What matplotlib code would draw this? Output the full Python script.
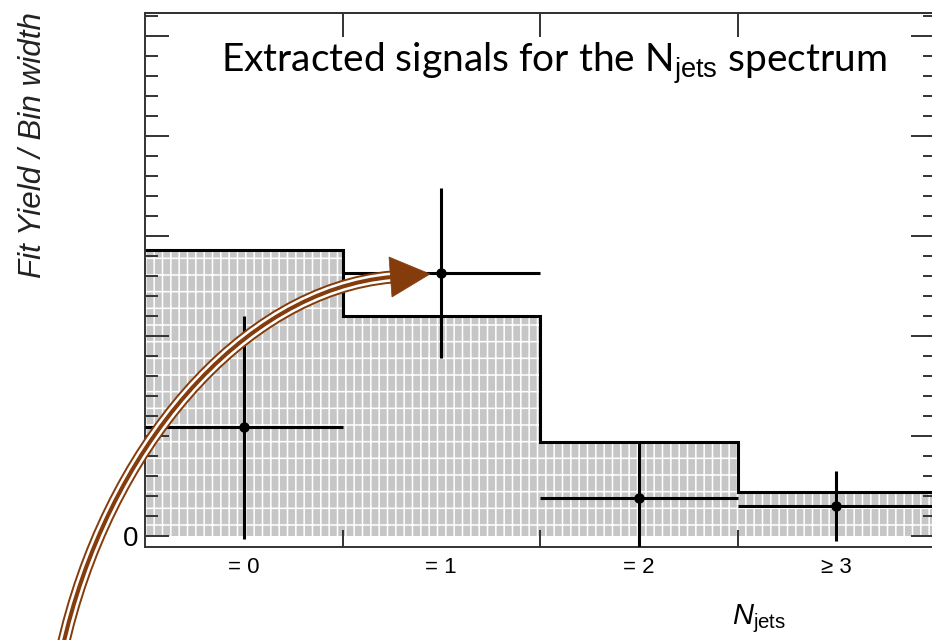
import numpy as np
import matplotlib
matplotlib.use("Agg")
import matplotlib.pyplot as plt
from matplotlib.path import Path
from matplotlib.patches import PathPatch, Polygon
import matplotlib.patheffects as pe

plt.rcParams['font.family'] = ['Liberation Sans', 'DejaVu Sans']
plt.rcParams['mathtext.fontset'] = 'custom'
plt.rcParams['mathtext.rm'] = 'Liberation Sans'
plt.rcParams['mathtext.it'] = 'Liberation Sans:italic'
plt.rcParams['hatch.linewidth'] = 1.1

# data
bin_labels = ["= 0", "= 1", "= 2", "\u2265 3"]
bin_centers = [0, 1, 2, 3]
bin_edges = [-0.5, 0.5, 1.5, 2.5, 3.5]
expected = [2.86, 2.20, 0.94, 0.44]      # shaded histogram
fit_yield = [1.09, 2.63, 0.38, 0.30]     # extracted signal points
fit_err = [1.115, 0.85, 0.56, 0.35]

W, H = 932, 640
fig = plt.figure(figsize=(W / 100, H / 100), dpi=100)

def fx(x):
    return x / W

def fy(y):
    return 1 - y / H

ax_l, ax_r, ax_t, ax_b = 145, 935, 13, 547
ax = fig.add_axes([fx(ax_l), fy(ax_b), (ax_r - ax_l) / W, (ax_b - ax_t) / H])

ax.bar(bin_centers, expected, width=1.0, color='#c6c6c6', edgecolor='white',
       hatch='||-', linewidth=0, zorder=1)
ax.stairs(expected, bin_edges, color='black', linewidth=2.2, baseline=None, zorder=2)
ax.errorbar(bin_centers, fit_yield, yerr=fit_err, xerr=0.5, fmt='o', color='black',
            markersize=6.5, elinewidth=2.2, capsize=0, zorder=3)

ax.set_xlim(-0.5, 3.5)
ax.set_ylim(-0.11, 5.23)

for s in ax.spines.values():
    s.set_color('#333333')
    s.set_linewidth(1.4)

# y axis: ticks both sides, only 0 labelled
ax.set_yticks([0, 1, 2, 3, 4, 5], ['0', '', '', '', '', ''])
ax.set_yticks(np.arange(0, 5.3, 0.2), minor=True)
ax.tick_params(axis='y', which='both', direction='in', left=True, right=True,
               color='#333333', width=1.4)
ax.tick_params(axis='y', which='major', length=17, labelsize=20, pad=5)
ax.tick_params(axis='y', which='minor', length=9)

# x axis: ticks at bin edges, labels at bin centers
ax.set_xticks(bin_edges[1:-1], ['', '', ''])
ax.set_xticks(bin_centers, bin_labels, minor=True)
ax.tick_params(axis='x', which='major', direction='in', length=12, width=1.4,
               color='#333333', bottom=True, top=False)
ax.tick_params(axis='x', which='minor', length=0, labelsize=16, pad=7)

top = ax.secondary_xaxis('top')
top.set_xticks(bin_edges[1:-1], ['', '', ''])
top.tick_params(direction='in', length=17, width=1.4, color='#333333')
top.spines['top'].set_color('#333333')
top.spines['top'].set_linewidth(1.4)

fig.text(fx(33), fy(12), 'Fit Yield / Bin width', rotation=90, ha='center', va='top',
         fontsize=22.6, style='italic', color='#222222')
fig.text(fx(732), fy(624), r'$\mathit{N}_{\mathrm{jets}}$', ha='left', va='baseline',
         fontsize=21)

fig.text(fx(221), fy(72), r'Extracted signals for the N$_{\mathrm{jets}}$ spectrum',
         ha='left', va='baseline', fontsize=28, family='Lato',
         math_fontfamily='custom')

# curved brown arrow
brown = '#843c0c'
pts = [(62, 650), (106, 450), (242, 290), (392, 277)]
verts = [(fx(x), fy(y)) for x, y in pts]
curve = PathPatch(Path(verts, [Path.MOVETO, Path.CURVE4, Path.CURVE4, Path.CURVE4]),
                  transform=fig.transFigure, facecolor='none', edgecolor=brown,
                  linewidth=2.9, zorder=10,
                  path_effects=[pe.Stroke(linewidth=9.4, foreground=brown),
                                pe.Stroke(linewidth=6.6, foreground='white'),
                                pe.Normal()])
fig.add_artist(curve)
head = Polygon([(fx(389), fy(257)), (fx(392), fy(297)), (fx(430), fy(274))],
               closed=True, transform=fig.transFigure, facecolor=brown,
               edgecolor=brown, linewidth=0.5, zorder=11)
fig.add_artist(head)

fig.savefig('out.png', dpi=100)
